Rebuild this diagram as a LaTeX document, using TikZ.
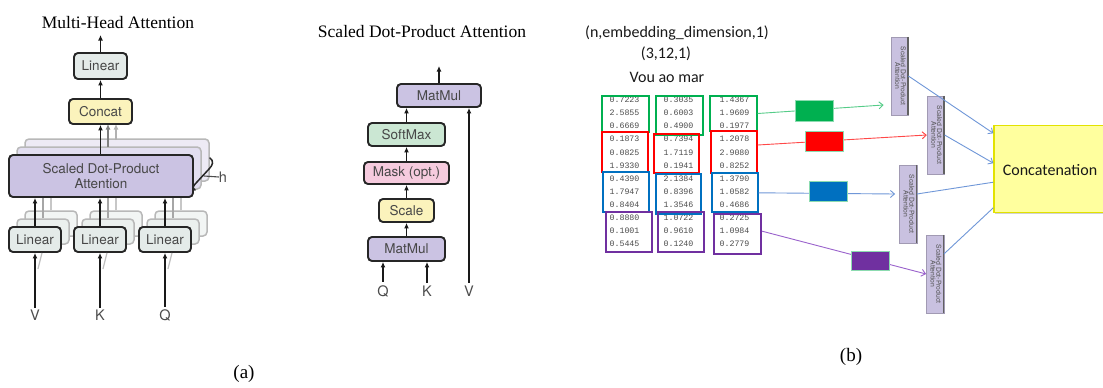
\documentclass[tikz,border=0pt]{standalone}
\usepackage{fontspec}
\usepackage{graphicx}
\setmainfont{Liberation Serif}
\newfontfamily\helv{TeX Gyre Heros}
\newfontfamily\calib{Carlito}
\newfontfamily\mono{Liberation Mono}
\usetikzlibrary{arrows.meta,shadows}

\definecolor{linfill}{HTML}{E4EBE9}
\definecolor{catfill}{HTML}{FBF3BC}
\definecolor{attfill}{HTML}{CBC3E3}
\definecolor{smfill}{HTML}{CBE7D3}
\definecolor{maskfill}{HTML}{F6CBDE}
\definecolor{grpgreen}{HTML}{00B050}
\definecolor{grpred}{HTML}{FF0000}
\definecolor{grpblue}{HTML}{0070C0}
\definecolor{grppurple}{HTML}{7030A0}
\definecolor{lnkgreen}{HTML}{55CC88}
\definecolor{lnkred}{HTML}{FF4848}
\definecolor{lnkblue}{HTML}{6F97D8}
\definecolor{lnkpurple}{HTML}{9A62CC}
\definecolor{headfill}{HTML}{C9C1E0}
\definecolor{catyellow}{HTML}{FFFF9E}
\definecolor{catedge}{HTML}{E2E200}

\tikzset{
  blockbase/.style={rectangle, rounded corners=4pt, line width=1.9pt, draw=black!85,
    inner sep=0pt, font=\helv\fontsize{13.5}{15.5}\selectfont, text=black!72},
  ghost/.style={rectangle, rounded corners=4pt, line width=1.5pt, draw=black!28,
    fill=#1, inner sep=0pt},
  uparrow/.style={-{Latex[length=5.5pt,width=5pt]}, line width=1.9pt, black!90},
  inlabel/.style={font=\helv\fontsize{14.5}{16}\selectfont, text=black!70, inner sep=3pt},
  title/.style={font=\fontsize{17.5}{20}\selectfont},
  num/.style={font=\mono\fontsize{8.3}{9}\selectfont, text=black!70, inner sep=0pt},
  grp/.style={rectangle, draw=#1, line width=1.9pt, inner sep=0pt},
  chip/.style={rectangle, fill=#1, draw=grpgreen!45, line width=0.6pt, inner sep=0pt},
  link/.style={line width=0.9pt, draw=#1},
  linkarrow/.style={line width=0.9pt, draw=#1, -{Straight Barb[length=4pt,width=7pt]}},
  headbox/.style={rectangle, fill=headfill, draw=headfill!80!black, line width=0.3pt,
    inner sep=0pt, minimum width=17.5pt, minimum height=78pt,
    font=\helv\fontsize{6.8}{7.8}\selectfont, text=black!68},
  rtext/.style={font=\calib\fontsize{16}{19}\selectfont, text=black!90, inner sep=0pt},
  caption/.style={font=\fontsize{19}{21}\selectfont}
}

\newcommand\headtext{\rotatebox[origin=c]{-90}{\begin{tabular}{@{}c@{}}Scaled Dot-Product\\[-2pt]Attention\end{tabular}}}

\begin{document}
\begin{tikzpicture}[x=1pt,y=-1pt]
\useasboundingbox[fill=white] (0,0) rectangle (1103,388);

% ---------------- Multi-Head Attention ----------------
\node[title] (mhtitle) at (118,23) {Multi-Head Attention};

% stacked copies behind the attention block
\node[ghost=attfill!35, minimum width=184pt, minimum height=42pt] (att3) at (117,160) {};
\node[ghost=attfill!55, minimum width=184pt, minimum height=42pt] (att2) at (109,168) {};

% stacked copies behind the input projections
\foreach \x/\n in {35/v,100/k,165/q}{
  \node[ghost=linfill!50, minimum width=52pt, minimum height=25pt] (\n lin3) at (\x+16,223.5) {};
  \node[ghost=linfill!75, minimum width=52pt, minimum height=25pt] (\n lin2) at (\x+8,231.5) {};
  \draw[line width=1.6pt, black!22] (\n lin3.north) -- (\n lin3.north |- att3.south);
  \draw[line width=1.6pt, black!35] (\n lin2.north) -- (\n lin2.north |- att2.south);
}

% faded outputs of the stacked heads
\draw[-{Latex[length=5.5pt,width=5pt]}, line width=1.7pt, black!30] (116,140) -- (116,124);
\draw[-{Latex[length=5.5pt,width=5pt]}, line width=1.7pt, black!50] (108,147) -- (108,124);

\node[blockbase, fill=attfill, minimum width=184pt, minimum height=42pt, align=center]
  (att) at (101,176) {Scaled Dot-Product\\[-1pt]Attention};
\node[blockbase, fill=catfill, minimum width=63pt, minimum height=25pt] (concat) at (100.5,111.5) {Concat};
\node[blockbase, fill=linfill, minimum width=53pt, minimum height=26pt] (outlin) at (100.5,66) {Linear};
\coordinate (mhout) at (100.5,35);

\node[blockbase, fill=linfill, minimum width=52pt, minimum height=25pt] (vlin) at (35,239.5) {Linear};
\node[blockbase, fill=linfill, minimum width=52pt, minimum height=25pt] (klin) at (100,239.5) {Linear};
\node[blockbase, fill=linfill, minimum width=52pt, minimum height=25pt] (qlin) at (165,239.5) {Linear};

\node[inlabel] (vin) at (35,315) {V};
\node[inlabel] (kin) at (100,315) {K};
\node[inlabel] (qin) at (165,315) {Q};

\draw[uparrow] (outlin.north) -- (mhout);
\draw[uparrow] (concat.north) -- (outlin.south);
\draw[uparrow] (att.north -| concat.south) -- (concat.south);
\foreach \n in {v,k,q}{
  \draw[uparrow] (\n lin.north) -- (\n lin.north |- att.south);
  \draw[uparrow] ([yshift=-1pt]\n in.north) -- (\n lin.south);
  % faint shadow of the copies behind each input
  \draw[line width=1.2pt, black!25] ([xshift=3pt,yshift=-16pt]\n lin.south) -- ([xshift=7pt]\n lin.south);
}

% brace marking the h parallel heads
\draw[line width=1.5pt, black!85, line cap=round]
  (210,158) .. controls (214,161) and (213,165) .. (209,169) -- (197,182)
  .. controls (193,186) and (192,188) .. (195,190);
\node[inlabel, inner sep=0pt] (hlab) at (223,177) {h};
\draw[line width=1.1pt, black!70] (204,176) -- (hlab.west);

% ---------------- Scaled Dot-Product Attention ----------------
\node[title] (sdtitle) at (422,32) {Scaled Dot-Product Attention};

\node[blockbase, fill=attfill, minimum width=84pt, minimum height=23pt] (mmtop) at (439,95.5) {MatMul};
\node[blockbase, fill=smfill, minimum width=77pt, minimum height=23pt] (smax) at (406.5,134.5) {SoftMax};
\node[blockbase, fill=maskfill, minimum width=85pt, minimum height=22pt] (mask) at (406.5,173) {Mask (opt.)};
\node[blockbase, fill=catfill, minimum width=55pt, minimum height=23pt] (scale) at (406.5,210.5) {Scale};
\node[blockbase, fill=attfill, minimum width=77pt, minimum height=24pt] (mmbot) at (406.5,249) {MatMul};
\coordinate (sdout) at (439,66);

\node[inlabel] (sq) at (383,291) {Q};
\node[inlabel] (sk) at (427,291) {K};
\node[inlabel] (sv) at (469,291) {V};

\draw[uparrow] (mmtop.north) -- (sdout);
\draw[uparrow] (smax.north) -- (smax.north |- mmtop.south);
\draw[uparrow] (mask.north) -- (smax.south);
\draw[uparrow] (scale.north) -- (mask.south);
\draw[uparrow] (mmbot.north) -- (scale.south);
\draw[uparrow] (sq.north) -- (sq.north |- mmbot.south);
\draw[uparrow] (sk.north) -- (sk.north |- mmbot.south);
\draw[uparrow] (sv.north) -- (sv.north |- mmtop.south);

% ---------------- token embeddings split into heads ----------------
\node[rtext] (shape) at (677,33) {(n,embedding\_dimension,1)};
\node[rtext] (dims) at (666,54) {(3,12,1)};
\node[rtext] (sent) at (667,77) {Vou ao mar};

\foreach \v [count=\i from 0] in {0.7223,2.5855,0.6669,0.1873,0.0825,1.9330,0.4390,1.7947,0.8404,0.8880,0.1001,0.5445}
  \node[num] (a\i) at (624.5,{100+13.07*\i}) {\v};
\foreach \v [count=\i from 0] in {0.3035,0.6003,0.4900,0.7394,1.7119,0.1941,2.1384,0.8396,1.3546,1.0722,0.9610,0.1240}
  \node[num] (b\i) at (678.5,{100+13.07*\i}) {\v};
\foreach \v [count=\i from 0] in {1.4367,1.9609,0.1977,1.2078,2.9080,0.8252,1.3790,1.0582,0.4686,0.2725,1.0984,0.2779}
  \node[num] (c\i) at (734.5,{100+13.07*\i}) {\v};

\node[grp=grpgreen, minimum width=47pt, minimum height=35.7pt] (g1) at (625.5,113.85) {};
\node[grp=grpgreen, minimum width=46.7pt, minimum height=39pt] (g2) at (679.35,115.5) {};
\node[grp=grpgreen, minimum width=46.7pt, minimum height=35pt] (g3) at (733.35,113.5) {};
\node[grp=grpred, minimum width=45.7pt, minimum height=39.7pt] (r1) at (624.85,151.85) {};
\node[grp=grpred, minimum width=45pt, minimum height=39pt] (r2) at (676.5,153.8) {};
\node[grp=grpred, minimum width=46pt, minimum height=42pt] (r3) at (733.7,152) {};
\node[grp=grpblue, minimum width=46.6pt, minimum height=39.4pt] (bl1) at (626,192) {};
\node[grp=grpblue, minimum width=45pt, minimum height=40.3pt] (bl2) at (678.5,194.15) {};
\node[grp=grpblue, minimum width=46pt, minimum height=39pt] (bl3) at (734.7,192.8) {};
\node[grp=grppurple, minimum width=45.7pt, minimum height=40.6pt] (p1) at (628.85,232) {};
\node[grp=grppurple, minimum width=46pt, minimum height=40pt] (p2) at (681.3,231.7) {};
\node[grp=grppurple, minimum width=46.7pt, minimum height=40.3pt] (p3) at (737.65,234.15) {};

% attention heads
\node[headbox] (h1) at (899.5,76) {\headtext};
\node[headbox] (h2) at (935.7,135) {\headtext};
\node[headbox] (h3) at (908,204) {\headtext};
\node[headbox] (h4) at (935,274) {\headtext};
\foreach \n in {h1,h2,h3,h4}
  \draw[line width=1.6pt, black!62] ([xshift=-0.6pt]\n.north east) -- ([xshift=-0.6pt]\n.south east);

% concatenation of the heads
\node[rectangle, fill=catyellow, draw=catedge, line width=1.2pt, inner sep=0pt,
  minimum width=116pt, minimum height=87pt,
  drop shadow={opacity=0.35, shadow xshift=1.2pt, shadow yshift=-1.5pt}] (cc) at (1052,169.2) {};
\node[rtext] (cctext) at (1050,170) {Concatenation};

% each head's slice goes to its own attention block
\draw[linkarrow=lnkgreen] (g3.east) -- ([xshift=-7pt,yshift=-29pt]h1.west);
\draw[linkarrow=lnkred] ([yshift=7pt]r3.east) -- (h2.west);
\draw[linkarrow=lnkblue] (bl3.east) -- ([xshift=-4pt,yshift=10pt]h3.west);
\draw[linkarrow=lnkpurple] ([yshift=3pt]p3.east) -- (h4.west);

\node[chip=grpgreen, minimum width=38.3pt, minimum height=21pt] (kg) at (814.15,110.5) {};
\node[chip=grpred, minimum width=38pt, minimum height=20pt] (kr) at (824.3,141.7) {};
\node[chip=grpblue, minimum width=38.4pt, minimum height=20pt] (kb) at (828.5,191.7) {};
\node[chip=grppurple, minimum width=37.6pt, minimum height=19.7pt] (kp) at (870.5,260.85) {};

% head outputs into the concatenation
\draw[linkarrow=lnkblue] (h1.east) -- ([yshift=35.9pt]cc.west);
\draw[linkarrow=lnkblue] (h2.east) -- ([yshift=6pt]cc.west);
\draw[link=lnkblue] ([yshift=10pt]h3.east) -- ([yshift=-13pt]cc.west);
\draw[link=lnkblue] ([yshift=20pt]h4.east) -- ([yshift=-38.5pt]cc.west);

% ---------------- captions ----------------
\node[caption] (capa) at (244,374) {(a)};
\node[caption] (capb) at (851,357) {(b)};
\end{tikzpicture}
\end{document}
